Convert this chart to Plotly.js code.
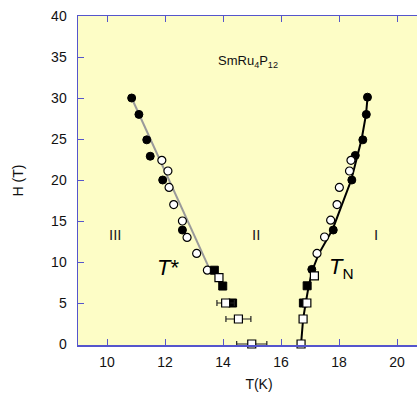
<!DOCTYPE html>
<html><head><meta charset="utf-8">
<script src="https://cdn.plot.ly/plotly-3.0.1.min.js"></script>
<style>html,body{margin:0;padding:0;overflow:hidden;background:#fff}</style>
</head><body><div id="chart"></div>
<script>
// T* branch (left)
const tsFilledT = [10.85, 11.10, 11.37, 11.49, 11.92, 12.60];
const tsFilledH = [30.0, 28.0, 24.9, 22.9, 20.0, 13.9];
const tsOpenT = [11.89, 12.10, 12.14, 12.30, 12.60, 12.76, 13.09, 13.46];
const tsOpenH = [22.4, 21.1, 19.1, 17.0, 15.0, 13.0, 11.05, 9.0];
const tsSqFilledT = [13.70, 13.99, 14.33];
const tsSqFilledH = [9.0, 7.07, 5.0];
const tsSqOpenT = [13.86, 14.09, 14.53, 14.99];
const tsSqOpenH = [8.1, 5.0, 3.05, 0.0];
const tsSqOpenErr = [0, 0.3, 0.43, 0.52];
const tsLineT = [10.85, 13.58];
const tsLineH = [30.0, 8.8];
// T_N branch (right)
const tnFilledT = [18.98, 18.94, 18.82, 18.56, 18.44, 17.80, 17.06];
const tnFilledH = [30.1, 28.0, 24.9, 23.0, 20.0, 13.9, 9.1];
const tnOpenT = [18.41, 18.36, 18.01, 17.93, 17.71, 17.50, 17.24];
const tnOpenH = [22.4, 21.1, 19.1, 17.0, 15.1, 13.05, 11.05];
const tnSqFilledT = [16.90, 16.77];
const tnSqFilledH = [7.1, 5.0];
const tnSqOpenT = [17.15, 16.89, 16.76, 16.69];
const tnSqOpenH = [8.3, 5.0, 3.05, 0.0];
const tnLineT = [16.69, 16.76, 16.85, 16.95, 17.08, 17.30, 17.78, 18.42, 18.78, 18.93, 18.98];
const tnLineH = [0, 3, 5, 7, 9, 11, 14, 20, 25, 28, 30];

const filled = {symbol: 'circle', size: 8, color: '#000', line: {color: '#000', width: 1}};
const open = {symbol: 'circle', size: 8, color: '#fff', line: {color: '#000', width: 1.2}};
const sqF = {symbol: 'square', size: 8, color: '#000', line: {color: '#000', width: 1}};
const sqO = {symbol: 'square', size: 8, color: '#fff', line: {color: '#000', width: 1.2}};

const traces = [
  {x: tsLineT, y: tsLineH, mode: 'lines', line: {color: '#9a9a9a', width: 2}},
  {x: tnLineT, y: tnLineH, mode: 'lines', line: {color: '#000', width: 2}},
  {x: tsFilledT, y: tsFilledH, mode: 'markers', marker: filled},
  {x: tsOpenT, y: tsOpenH, mode: 'markers', marker: open},
  {x: tsSqFilledT, y: tsSqFilledH, mode: 'markers', marker: sqF},
  {x: tsSqOpenT, y: tsSqOpenH, mode: 'markers', marker: sqO,
   error_x: {type: 'data', array: tsSqOpenErr, visible: true, color: '#222', thickness: 1.2, width: 3}},
  {x: tnFilledT, y: tnFilledH, mode: 'markers', marker: filled},
  {x: tnOpenT, y: tnOpenH, mode: 'markers', marker: open},
  {x: tnSqFilledT, y: tnSqFilledH, mode: 'markers', marker: sqF},
  {x: tnSqOpenT, y: tnSqOpenH, mode: 'markers', marker: sqO}
].map(t => Object.assign({type: 'scatter', showlegend: false, hoverinfo: 'skip', cliponaxis: false}, t));

const axisColor = '#5555cc';
const font = {family: 'Liberation Sans, Arial, sans-serif', color: '#111'};
const layout = {
  width: 440, height: 396,
  margin: {l: 78, r: 0, t: 16, b: 51},
  paper_bgcolor: '#ffffff', plot_bgcolor: '#fdfdc6',
  font: font,
  xaxis: {range: [9, 21.48], tickvals: [10, 12, 14, 16, 18, 20], ticks: 'inside', ticklen: 6,
          tickcolor: axisColor, showline: true, linecolor: axisColor, linewidth: 1.5, mirror: 'ticks',
          showgrid: false, zeroline: false, ticklabelstandoff: 4,
          tickfont: {size: 14, family: font.family, color: '#111'},
          title: {text: 'T(K)', font: {size: 14, family: font.family, color: '#111'}, standoff: 10}},
  yaxis: {range: [-0.12, 40], tickvals: [0, 5, 10, 15, 20, 25, 30, 35, 40], ticks: 'inside', ticklen: 6,
          tickcolor: axisColor, showline: true, linecolor: axisColor, linewidth: 1.5, mirror: 'ticks',
          showgrid: false, zeroline: false, ticklabelstandoff: 7,
          tickfont: {size: 14, family: font.family, color: '#111'},
          title: {text: 'H (T)', font: {size: 14, family: font.family, color: '#111'}, standoff: 24}},
  annotations: [
    {x: 14.86, y: 34.4, text: 'SmRu<sub>4</sub>P<sub>12</sub>', showarrow: false, font: {size: 13, family: font.family, color: '#111'}},
    {x: 10.3, y: 13.4, text: 'III', showarrow: false, font: {size: 15, family: font.family, color: '#222'}},
    {x: 15.14, y: 13.4, text: 'II', showarrow: false, font: {size: 15, family: font.family, color: '#222'}},
    {x: 19.28, y: 13.4, text: 'I', showarrow: false, font: {size: 15, family: font.family, color: '#222'}},
    {x: 12.1, y: 9.3, text: '<i>T</i>*', showarrow: false, font: {size: 22, family: font.family, color: '#000'}},
    {x: 18.1, y: 9.3, text: '<i>T</i><sub>N</sub>', showarrow: false, font: {size: 22, family: font.family, color: '#000'}}
  ]
};
Plotly.newPlot('chart', traces, layout, {displayModeBar: false, staticPlot: true});
</script></body></html>
